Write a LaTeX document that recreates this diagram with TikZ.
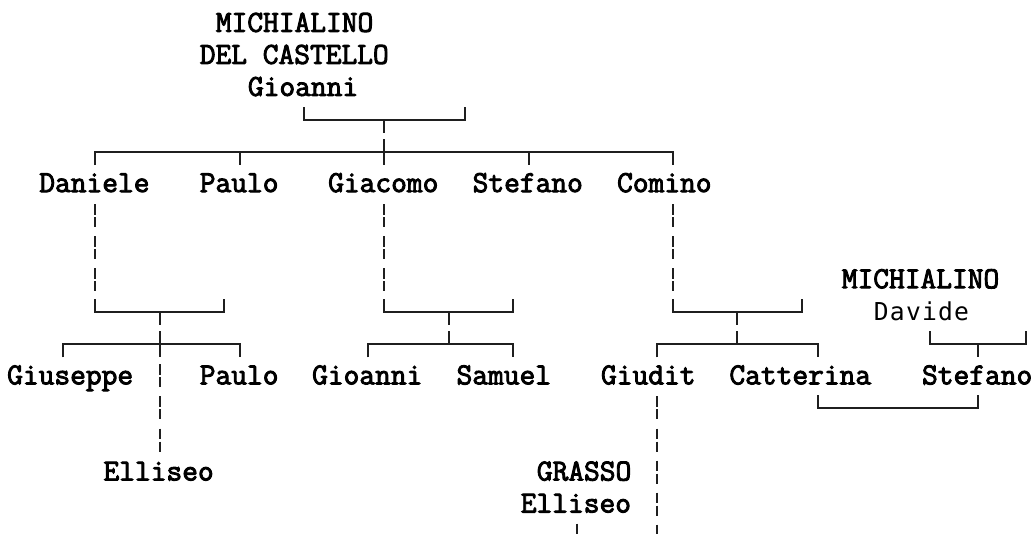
\documentclass[tikz,border=0pt]{standalone}
\usepackage{fontspec}
\usetikzlibrary{calc}
\newfontfamily\namefont{Latin Modern Mono}[FakeBold=3]
\newfontfamily\davfont{DejaVu Sans Mono}[LetterSpace=4.9]
\newcommand\colL[1]{(7.2+16.05*(#1))}
\newcommand\colC[1]{(7.2+16.05*(#1+0.5))}
\newcommand\rowL[1]{(23.85+32.05*(#1))}
\newcommand\rowB[1]{(31.8+32.05*(#1))}
\newcommand\jc[3]{\coordinate (#1) at ({\colC{#2}},{\rowL{#3}});}
\begin{document}
\begin{tikzpicture}[x=0.75pt,y=-0.75pt,
  nm/.style={font=\namefont\fontsize{22.93}{24}\selectfont, anchor=base west, inner sep=0pt, outer sep=0pt, text=black},
  dv/.style={font=\davfont\fontsize{18.5}{20}\selectfont, anchor=base west, inner sep=0pt, outer sep=0pt, text=black},
  ln/.style={line width=1.5pt, draw=black!88, line join=miter},
  dsh/.style={ln, dash pattern=on 7.875pt off 1.875pt on 7.5pt off 6.7875pt}]
\useasboundingbox (0,0) rectangle (1036,533);
\clip (0,0) rectangle (1036,533);
\fill[white] (0,0) rectangle (1036,533);
% ---------- text nodes ----------
\node[nm] (gioTop1) at ({\colL{13}},{\rowB{0}}) {MICHIALINO};
\node[nm] (gioTop2) at ({\colL{12}},{\rowB{1}}) {DEL CASTELLO};
\node[nm] (gioTop)  at ({\colL{15}},{\rowB{2}}) {Gioanni};
\node[nm] (daniele) at ({\colL{2}},{\rowB{5}}) {Daniele};
\node[nm] (paulo1)  at ({\colL{12}},{\rowB{5}}) {Paulo};
\node[nm] (giacomo) at ({\colL{20}},{\rowB{5}}) {Giacomo};
\node[nm] (stef1)   at ({\colL{29}},{\rowB{5}}) {Stefano};
\node[nm] (comino)  at ({\colL{38}},{\rowB{5}}) {Comino};
\node[nm] (davSur)  at ({\colL{52}},{\rowB{8}}) {MICHIALINO};
\node[dv] (davide)  at ({\colL{54}},{\rowB{9}}) {Davide};
\node[nm] (giuseppe) at ({\colL{0}},{\rowB{11}}) {Giuseppe};
\node[nm] (paulo2)  at ({\colL{12}},{\rowB{11}}) {Paulo};
\node[nm] (gioanni) at ({\colL{19}},{\rowB{11}}) {Gioanni};
\node[nm] (samuel)  at ({\colL{28}},{\rowB{11}}) {Samuel};
\node[nm] (giudit)  at ({\colL{37}},{\rowB{11}}) {Giudit};
\node[nm] (catter)  at ({\colL{45}},{\rowB{11}}) {Catterina};
\node[nm] (stef2)   at ({\colL{57}},{\rowB{11}}) {Stefano};
\node[nm] (elli1)   at ({\colL{6}},{\rowB{14}}) {Elliseo};
\node[nm] (grasso)  at ({\colL{33}},{\rowB{14}}) {GRASSO};
\node[nm] (elli2)   at ({\colL{32}},{\rowB{15}}) {Elliseo};
% ---------- junction coordinates ----------
\jc{a1}{18}{3}\jc{a2}{23}{3}\jc{a3}{28}{3}
\jc{b1}{5}{4}\jc{b2}{14}{4}\jc{b3}{23}{4}\jc{b4}{32}{4}\jc{b5}{41}{4}
\jc{d1s}{5}{6}\jc{d1e}{5}{8}
\jc{d2s}{23}{6}\jc{d2e}{23}{8}
\jc{d3s}{41}{6}\jc{d3e}{41}{8}
\jc{e1}{5}{9}\jc{e2}{9}{9}\jc{e3}{13}{9}
\jc{f1}{23}{9}\jc{f2}{27}{9}\jc{f3}{31}{9}
\jc{g1}{41}{9}\jc{g2}{45}{9}\jc{g3}{49}{9}
\jc{h1}{3}{10}\jc{h2}{9}{10}\jc{h3}{14}{10}
\jc{i1}{22}{10}\jc{i2}{27}{10}\jc{i3}{31}{10}
\jc{k1}{40}{10}\jc{k2}{45}{10}\jc{k3}{50}{10}
\jc{m1}{57}{10}\jc{m2}{60}{10}\jc{m3}{63}{10}
\jc{el1s}{9}{11}\jc{el1e}{9}{13}
\jc{n1}{50}{12}\jc{n2}{60}{12}
\jc{gds}{40}{12}\jc{gde}{40}{16}
\jc{gr}{35}{16}
% ---------- connectors ----------
% Gioanni's marriage
\draw[ln] ($(a1)+(0,-13)$) -- (a1) -- (a3) -- ($(a3)+(0,-13)$);
\draw[ln] (a2) -- ($(a2)+(0,13)$);
% children line
\draw[ln] ($(b1)+(0,13)$) -- (b1) -- (b5) -- ($(b5)+(0,13)$);
\draw[ln] (b2) -- ($(b2)+(0,13)$);
\draw[ln] ($(b3)+(0,-13)$) -- ($(b3)+(0,13)$);
\draw[ln] (b4) -- ($(b4)+(0,13)$);
% descent lines
\draw[dsh] ($(d1s)+(0,-12)$) -- ($(d1e)+(0,11)$);
\draw[dsh] ($(d2s)+(0,-12)$) -- ($(d2e)+(0,11)$);
\draw[dsh] ($(d3s)+(0,-12)$) -- ($(d3e)+(0,11)$);
% marriages row 9
\draw[ln] ($(e1)+(0,-13)$) -- (e1) -- (e3) -- ($(e3)+(0,-13)$);
\draw[ln] (e2) -- ($(e2)+(0,13)$);
\draw[ln] ($(f1)+(0,-13)$) -- (f1) -- (f3) -- ($(f3)+(0,-13)$);
\draw[ln] (f2) -- ($(f2)+(0,13)$);
\draw[ln] ($(g1)+(0,-13)$) -- (g1) -- (g3) -- ($(g3)+(0,-13)$);
\draw[ln] (g2) -- ($(g2)+(0,13)$);
% children row 10
\draw[ln] ($(h1)+(0,13)$) -- (h1) -- (h3) -- ($(h3)+(0,13)$);
\draw[ln] ($(h2)+(0,-13)$) -- ($(h2)+(0,13)$);
\draw[ln] ($(i1)+(0,13)$) -- (i1) -- (i3) -- ($(i3)+(0,13)$);
\draw[ln] ($(i2)+(0,-13)$) -- (i2);
\draw[ln] ($(k1)+(0,13)$) -- (k1) -- (k3) -- ($(k3)+(0,13)$);
\draw[ln] ($(k2)+(0,-13)$) -- (k2);
% Davide's marriage
\draw[ln] ($(m1)+(0,-13)$) -- (m1) -- (m3) -- ($(m3)+(0,-13)$);
\draw[ln] (m2) -- ($(m2)+(0,13)$);
% Elliseo descent
\draw[dsh] ($(el1s)+(0,-12)$) -- ($(el1e)+(0,11)$);
% Catterina - Stefano
\draw[ln] ($(n1)+(0,-13)$) -- (n1) -- (n2) -- ($(n2)+(0,-13)$);
% Giudit descent and Grasso
\draw[dsh] ($(gds)+(0,-12)$) -- ($(gde)+(0,11)$);
\draw[ln] ($(gr)+(0,-13)$) -- (gr);
\end{tikzpicture}
\end{document}
